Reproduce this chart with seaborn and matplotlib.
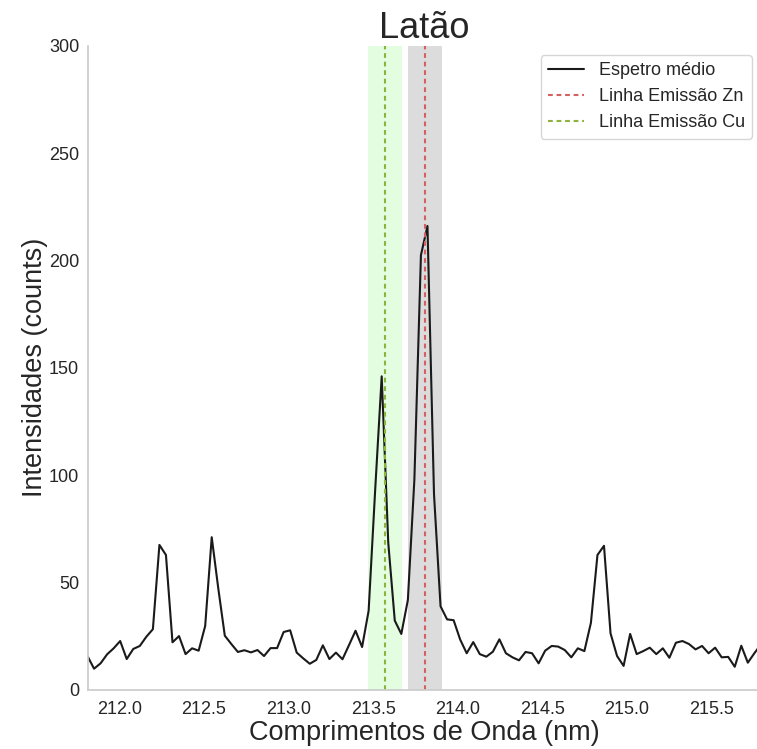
import numpy as np
import pandas as pd
import seaborn as sns
import matplotlib
matplotlib.use("Agg")
import matplotlib.pyplot as plt

# Wavelength grid (nm) and mean spectrum
lambda_start = 211.8125
lambda_stop = 215.791
intensities = [
    15.6, 9.7, 12.2, 16.4, 19.2, 22.6, 14.2, 18.9, 20.3, 24.6,
    28.1, 67.4, 62.7, 22.0, 24.9, 16.5, 19.2, 18.1, 29.6, 71.0,
    47.2, 25.1, 21.2, 17.5, 18.3, 17.3, 18.4, 15.6, 19.3, 19.3,
    26.8, 27.6, 17.2, 14.5, 12.0, 13.8, 20.6, 14.2, 17.2, 14.1,
    20.7, 27.4, 19.8, 36.7, 93.0, 146.0, 68.5, 32.1, 25.9, 41.7,
    98.0, 202.5, 216.1, 91.0, 38.8, 32.7, 32.3, 23.3, 16.9, 22.1,
    16.5, 15.3, 17.6, 23.4, 16.9, 15.0, 13.6, 17.5, 16.9, 12.2,
    18.1, 20.3, 20.0, 18.4, 15.0, 19.2, 17.9, 31.1, 62.7, 67.0,
    26.2, 15.6, 11.0, 25.9, 16.5, 17.9, 19.5, 16.5, 19.2, 14.8,
    21.8, 22.6, 21.2, 18.7, 20.3, 16.9, 19.5, 15.0, 15.2, 10.6,
    20.4, 12.5, 16.9, 21.0,
]
wavelengths = np.linspace(lambda_start, lambda_stop, len(intensities))

# Emission lines (nm) and half width of the shaded windows
zn_line = 213.808
cu_line = 213.570
half_window = 0.1

df = pd.DataFrame({"lambda": wavelengths, "I": intensities})

sns.set_theme(style="white")
plt.rcParams["font.family"] = ["Liberation Sans", "DejaVu Sans"]

fig = plt.figure(figsize=(7.57, 7.49), dpi=100)
ax = fig.add_axes([87.5 / 757, 59.5 / 749, (760.9 - 87.5) / 757, (689.5 - 46) / 749])

ax.axvspan(cu_line - half_window, cu_line + half_window, color="#e2fde0", lw=0, zorder=0)
ax.axvspan(zn_line - half_window, zn_line + half_window, color="#dcdcdc", lw=0, zorder=0)

sns.lineplot(data=df, x="lambda", y="I", color="#1a1a1a", lw=1.5, ax=ax, label="Espetro médio")
ax.axvline(zn_line, color="#d4605f", lw=1.5, ls=(0, (2.3, 1.8)), label="Linha Emissão Zn")
ax.axvline(cu_line, color="#8db33c", lw=1.5, ls=(0, (2.3, 1.8)), label="Linha Emissão Cu")

ax.set_xlim(wavelengths[0], wavelengths[-1])
ax.set_ylim(0, 300)
ax.set_yticks(np.arange(0, 301, 50))
ax.set_xticks(np.arange(212.0, 215.6, 0.5))
ax.tick_params(labelsize=13, length=0)
ax.tick_params(axis="x", pad=8)
ax.tick_params(axis="y", pad=6)

ax.set_title("Latão", fontsize=26)
ax.set_xlabel("Comprimentos de Onda (nm)", fontsize=19.5, labelpad=2)
ax.set_ylabel("Intensidades (counts)", fontsize=19.5, labelpad=1)
ax.legend(loc="upper right", fontsize=13)
sns.despine()
for side in ["left", "bottom"]:
    ax.spines[side].set_color("#cccccc")
    ax.spines[side].set_linewidth(1.25)

fig.savefig("out.png", dpi=100)
